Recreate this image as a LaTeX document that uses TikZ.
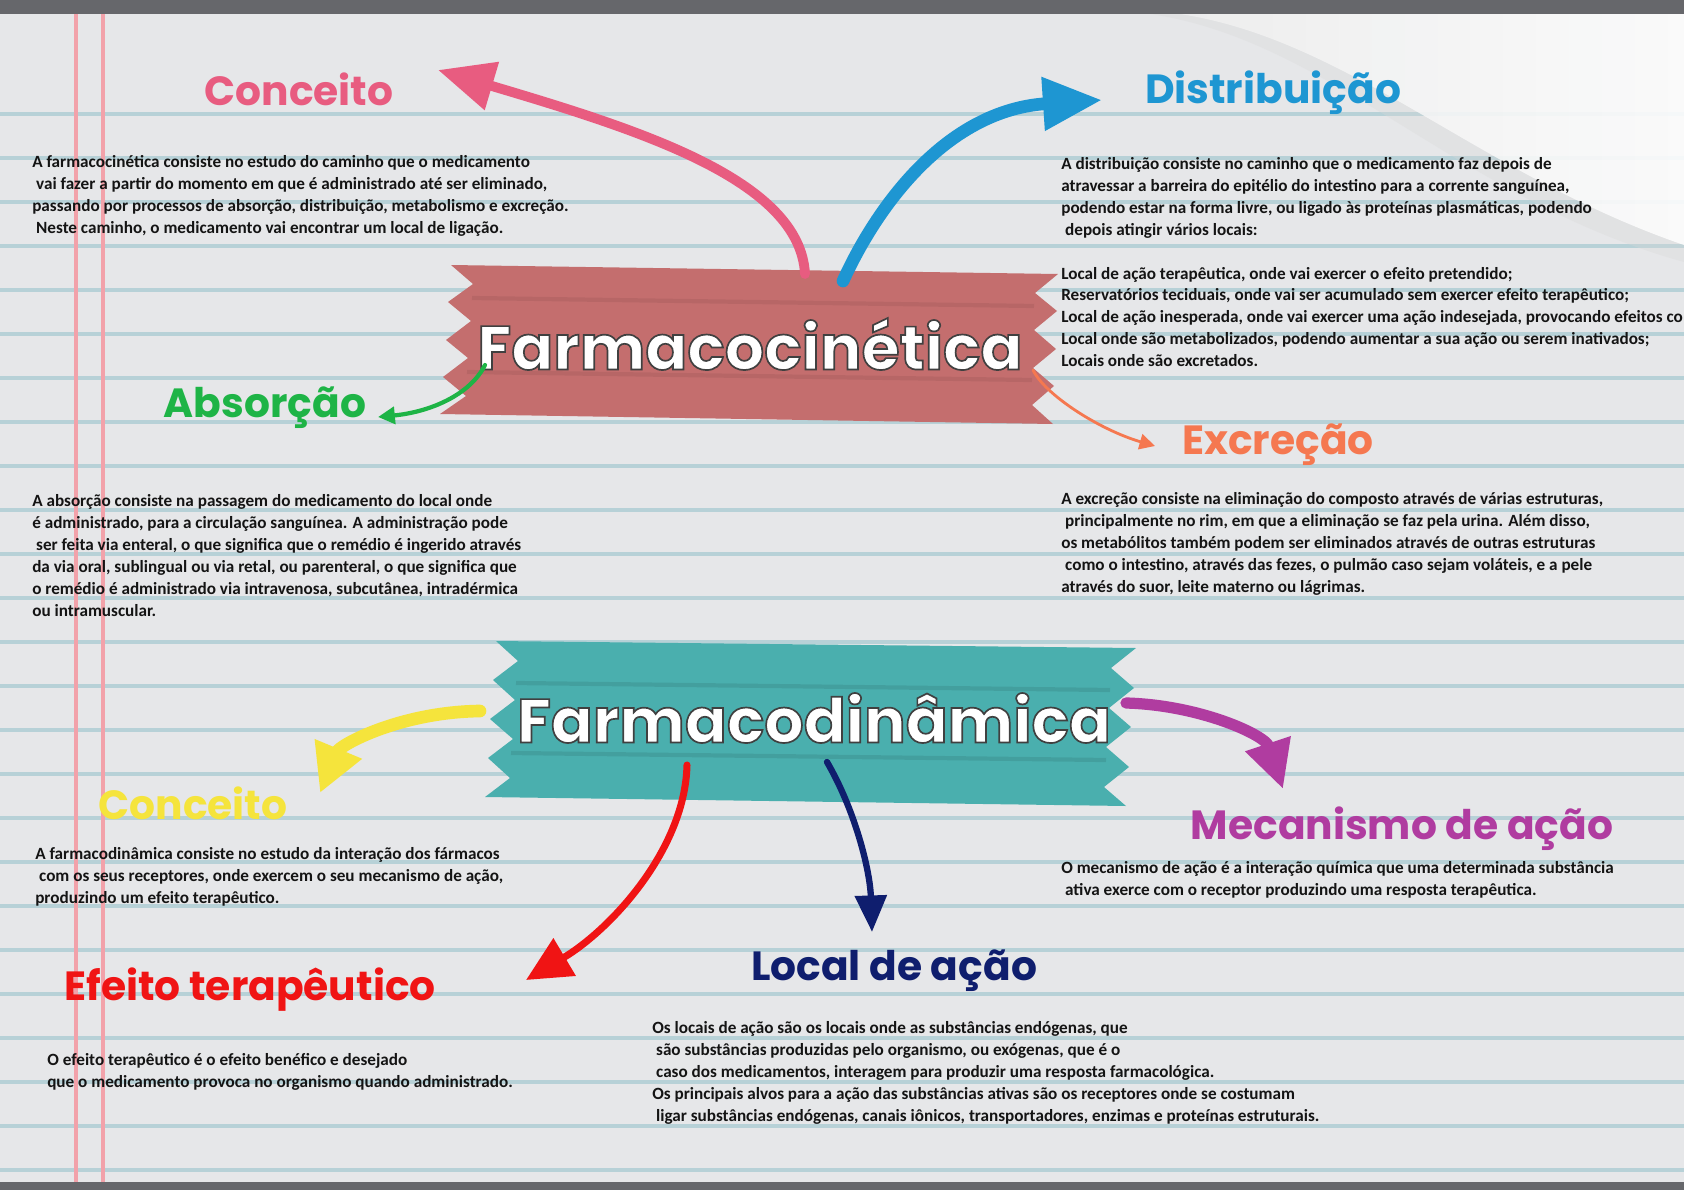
\documentclass[tikz,border=0pt]{standalone}
\usepackage{fontspec}
\setmainfont{Carlito}
\newfontfamily\titlefont{Poppins}
\usepackage{xcolor}
\usetikzlibrary{arrows.meta, calc}

\definecolor{paper}{HTML}{E6E7E9}
\definecolor{bandgray}{HTML}{66676B}
\definecolor{rulecol}{HTML}{9EC6CE}
\definecolor{margincol}{HTML}{F2A2AA}
\definecolor{kinrose}{HTML}{C46E6E}
\definecolor{dynteal}{HTML}{4AAFAE}
\definecolor{pinkC}{HTML}{E85C80}
\definecolor{blueC}{HTML}{1E96D2}
\definecolor{greenC}{HTML}{1EB446}
\definecolor{orangeC}{HTML}{F57850}
\definecolor{yellowC}{HTML}{F5E43C}
\definecolor{purpleC}{HTML}{B03CA0}
\definecolor{redC}{HTML}{F01414}
\definecolor{navyC}{HTML}{0F1E6E}

% white letters with a thin dark rim
\newcommand{\rimtext}[1]{\special{pdf:literal direct 2 Tr 1.2 w 0.25 0.25 0.25 RG}#1\special{pdf:literal direct 0 Tr}}

\begin{document}
\begin{tikzpicture}[x=0.025cm, y=-0.025cm,
  title/.style={font=\titlefont\bfseries\fontsize{29}{32}\selectfont, inner sep=0pt},
  banner/.style={font=\titlefont\bfseries\fontsize{44}{48}\selectfont, text=white, inner sep=0pt},
  body/.style={font=\bfseries\fontsize{12.2}{15.6}\selectfont, align=left,
               anchor=north west, inner sep=0pt, text=black!92},
  brush/.style={line cap=round, line join=round},
  fold/.style={line width=3pt, opacity=0.22}
]
  \useasboundingbox (0,0) rectangle (1684,1190);

  % paper
  \fill[paper] (0,0) rectangle (1684,1190);
  \foreach \y in {114,158,...,1170}
    \draw[rulecol, line width=2.6pt, opacity=0.65] (0,\y) -- (1684,\y);
  \draw[margincol, line width=3pt] (76,14) -- (76,1182);
  \draw[margincol, line width=3pt] (103,14) -- (103,1182);
  % page curl
  \fill[gray!30, opacity=0.35] (1150,14) .. controls (1330,40) and (1460,200) .. (1684,262) -- (1684,14) -- cycle;
  \shade[left color=gray!12, right color=white, opacity=0.85] (1180,14) .. controls (1350,40) and (1480,175) .. (1684,245) -- (1684,14) -- cycle;
  \fill[bandgray] (0,0) rectangle (1684,14);
  \fill[bandgray] (0,1182) rectangle (1684,1190);

  % banners
  \fill[kinrose] (451,265) -- (1058,274) -- (1035,293) -- (1057,311) -- (1034,330) -- (1056,349)
    -- (1033,368) -- (1054,386) -- (1032,405) -- (1053,424) -- (440,414) -- (466,396) -- (443,377)
    -- (468,358) -- (446,340) -- (471,321) -- (448,302) -- (473,284) -- cycle;
  \draw[fold, kinrose!70!black] (472,298) -- (1034,306);
  \draw[fold, kinrose!70!black] (467,372) -- (1032,380);
  \fill[dynteal] (496,641) -- (1136,648) -- (1111,668) -- (1134,688) -- (1109,708) -- (1131,727)
    -- (1106,747) -- (1129,767) -- (1104,787) -- (1126,806) -- (485,797) -- (510,778) -- (488,758)
    -- (513,739) -- (490,719) -- (515,700) -- (493,680) -- (518,661) -- cycle;
  \draw[fold, dynteal!60!black] (516,683) -- (1110,690);
  \draw[fold, dynteal!60!black] (511,753) -- (1106,760);

  \node[banner] (kin) at (750,344) {\rimtext{Farmacocinética}};
  \node[banner] (dyn) at (814,718) {\rimtext{Farmacodinâmica}};

  % titles
  \node[title, text=pinkC]   (tConc)  at (299,89)   {Conceito};
  \node[title, text=blueC]   (tDist)  at (1273,93)  {Distribuição};
  \node[title, text=greenC]  (tAbs)   at (265,408)  {Absorção};
  \node[title, text=orangeC] (tExc)   at (1278,445) {Excreção};
  \node[title, text=yellowC] (tConcD) at (193,803)  {Conceito};
  \node[title, text=purpleC] (tMec)   at (1402,829) {Mecanismo de ação};
  \node[title, text=redC]    (tEfe)   at (250,990)  {Efeito terapêutico};
  \node[title, text=navyC]   (tLoc)   at (894,971)  {Local de ação};

  % arrow tips
  \coordinate (pConc)  at (438,70);
  \coordinate (pDist)  at (1102,100);
  \coordinate (pAbs)   at (378,417);
  \coordinate (pExc)   at (1155,446);
  \coordinate (pConcD) at (320,793);
  \coordinate (pMec)   at (1283,789);
  \coordinate (pEfe)   at (526,980);
  \coordinate (pLoc)   at (872,932);

  % arrows
  \draw[brush, pinkC, line width=7pt, -{Triangle[length=40pt,width=34pt]}]
    ($(kin)+(55,-70)$) .. controls (800,180) and (640,130) .. (pConc);
  \draw[brush, blueC, line width=9pt, -{Triangle[length=42pt,width=36pt]}]
    ($(kin)+(93,-63)$) .. controls (880,200) and (950,110) .. (pDist);
  \draw[brush, greenC, line width=3pt, -{Triangle[length=12pt,width=12pt]}]
    ($(kin)+(-265,21)$) .. controls (470,395) and (430,412) .. (pAbs);
  \draw[brush, orangeC, line width=2pt, -{Triangle[length=11pt,width=11pt]}]
    ($(kin)+(283,26)$) .. controls (1045,395) and (1100,430) .. (pExc);
  \draw[brush, yellowC, line width=9pt, -{Triangle[length=34pt,width=34pt]}]
    ($(dyn)+(-334,-7)$) .. controls (400,712) and (340,745) .. (pConcD);
  \draw[brush, purpleC, line width=8pt, -{Triangle[length=34pt,width=32pt]}]
    ($(dyn)+(312,-15)$) .. controls (1200,705) and (1265,735) .. (pMec);
  \draw[brush, redC, line width=5pt, -{Triangle[length=32pt,width=30pt]}]
    ($(dyn)+(-127,47)$) .. controls (685,850) and (610,930) .. (pEfe);
  \draw[brush, navyC, line width=4.5pt, -{Triangle[length=26pt,width=22pt]}]
    ($(dyn)+(13,44)$) .. controls (855,810) and (870,870) .. (pLoc);

  % texts
  \node[body] (bConc) at (32,155) {A farmacocinética consiste no estudo do caminho que o medicamento\\
    \ vai fazer a partir do momento em que é administrado até ser eliminado,\\
    passando por processos de absorção, distribuição, metabolismo e excreção.\\
    \ Neste caminho, o medicamento vai encontrar um local de ligação.};
  \node[body] (bDist) at (1061,157) {A distribuição consiste no caminho que o medicamento faz depois de\\
    atravessar a barreira do epitélio do intestino para a corrente sanguínea,\\
    podendo estar na forma livre, ou ligado às proteínas plasmáticas, podendo\\
    \ depois atingir vários locais:\\[15.6pt]
    Local de ação terapêutica, onde vai exercer o efeito pretendido;\\
    Reservatórios teciduais, onde vai ser acumulado sem exercer efeito terapêutico;\\
    Local de ação inesperada, onde vai exercer uma ação indesejada, provocando efeitos co\\
    Local onde são metabolizados, podendo aumentar a sua ação ou serem inativados;\\
    Locais onde são excretados.};
  \node[body] (bAbs) at (32,494) {A absorção consiste na passagem do medicamento do local onde\\
    é administrado, para a circulação sanguínea. A administração pode\\
    \ ser feita via enteral, o que significa que o remédio é ingerido através\\
    da via oral, sublingual ou via retal, ou parenteral, o que significa que\\
    o remédio é administrado via intravenosa, subcutânea, intradérmica\\
    ou intramuscular.};
  \node[body] (bExc) at (1061,492) {A excreção consiste na eliminação do composto através de várias estruturas,\\
    \ principalmente no rim, em que a eliminação se faz pela urina. Além disso,\\
    os metabólitos também podem ser eliminados através de outras estruturas\\
    \ como o intestino, através das fezes, o pulmão caso sejam voláteis, e a pele\\
    através do suor, leite materno ou lágrimas.};
  \node[body] (bConcD) at (35,847) {A farmacodinâmica consiste no estudo da interação dos fármacos\\
    \ com os seus receptores, onde exercem o seu mecanismo de ação,\\
    produzindo um efeito terapêutico.};
  \node[body] (bMec) at (1061,861) {O mecanismo de ação é a interação química que uma determinada substância\\
    \ ativa exerce com o receptor produzindo uma resposta terapêutica.};
  \node[body] (bEfe) at (47,1053) {O efeito terapêutico é o efeito benéfico e desejado\\
    que o medicamento provoca no organismo quando administrado.};
  \node[body] (bLoc) at (652,1021) {Os locais de ação são os locais onde as substâncias endógenas, que\\
    \ são substâncias produzidas pelo organismo, ou exógenas, que é o\\
    \ caso dos medicamentos, interagem para produzir uma resposta farmacológica.\\
    Os principais alvos para a ação das substâncias ativas são os receptores onde se costumam\\
    \ ligar substâncias endógenas, canais iônicos, transportadores, enzimas e proteínas estruturais.};
\end{tikzpicture}
\end{document}
